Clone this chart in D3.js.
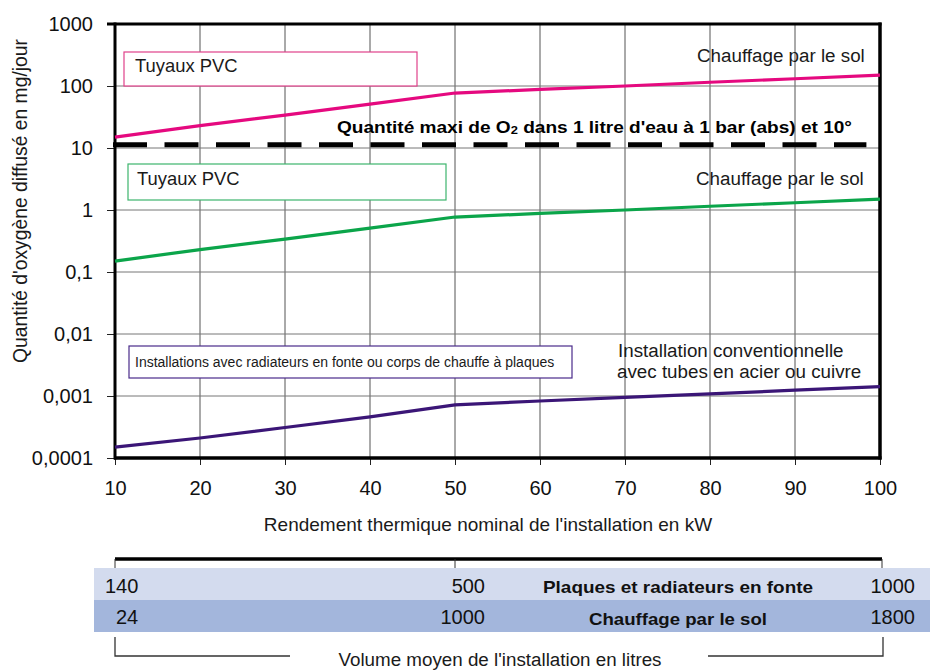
<!DOCTYPE html>
<html>
<head>
<meta charset="utf-8">
<script src="https://cdn.jsdelivr.net/npm/d3@7"></script>
<style>
  html, body { margin: 0; padding: 0; background: #fff; }
  svg { display: block; font-family: "Liberation Sans", Arial, Helvetica, sans-serif; }
</style>
</head>
<body>
<svg id="chart" width="930" height="670"></svg>
<script>
// Nominal thermal output of the installation (kW)
const powerKW = [10, 20, 30, 40, 50, 60, 70, 80, 90, 100];

// Oxygen diffused (mg/day) for each installation type
const pvcHigh   = [15, 23, 34, 51, 77, 88, 100, 115, 131, 150];
const pvcLow    = [0.15, 0.23, 0.34, 0.51, 0.77, 0.88, 1.0, 1.15, 1.31, 1.5];
const steelCu   = [0.00015, 0.00021, 0.00031, 0.00046, 0.00072, 0.00083, 0.00095, 0.00108, 0.00124, 0.00142];

// Max O2 in one litre of water at 1 bar (abs) and 10 °C (mg)
const oxygenLimit = 11.3;

// Axis tick values and labels
const xTicks = [10, 20, 30, 40, 50, 60, 70, 80, 90, 100];
const yTicks = [0.0001, 0.001, 0.01, 0.1, 1, 10, 100, 1000];
const yTickLabels = ["0,0001", "0,001", "0,01", "0,1", "1", "10", "100", "1000"];

// Average installation volume (litres) at 10, 50 and 100 kW
const volumeAt = [10, 50, 100];
const volumeRadiators = ["140", "500", "1000"];
const volumeFloor = ["24", "1000", "1800"];

const svg = d3.select("#chart");
const plotLeft = 115, plotRight = 880, plotTop = 24, plotBottom = 458;

const x = d3.scaleLinear().domain([10, 100]).range([plotLeft, plotRight]);
const y = d3.scaleLog().domain([0.0001, 1000]).range([plotBottom, plotTop]);

// Grid
const grid = svg.append("g");
grid.selectAll("line.v").data(xTicks.slice(1, -1)).join("line")
  .attr("x1", d => x(d)).attr("x2", d => x(d))
  .attr("y1", plotTop).attr("y2", plotBottom)
  .attr("stroke", "#555").attr("stroke-width", 1);
grid.selectAll("line.h").data(yTicks.slice(1, -1)).join("line")
  .attr("x1", plotLeft).attr("x2", plotRight)
  .attr("y1", d => y(d)).attr("y2", d => y(d))
  .attr("stroke", "#777").attr("stroke-width", 1);

// Left axis
const yAxis = d3.axisLeft(y).tickValues(yTicks)
  .tickFormat((d, i) => yTickLabels[i]).tickSize(8).tickPadding(14);
const gy = svg.append("g").attr("transform", `translate(${plotLeft},0)`).call(yAxis);
gy.select(".domain").remove();
gy.selectAll("text").attr("font-size", 20).attr("fill", "#111")
  .style("font-family", "'Liberation Sans', Arial, sans-serif");
gy.selectAll("line").attr("stroke", "#222");

// Bottom axis
const xAxis = d3.axisBottom(x).tickValues(xTicks).tickSize(7).tickPadding(16);
const gx = svg.append("g").attr("transform", `translate(0,${plotBottom})`).call(xAxis);
gx.select(".domain").remove();
gx.selectAll("text").attr("font-size", 20).attr("fill", "#111")
  .style("font-family", "'Liberation Sans', Arial, sans-serif");
gx.selectAll("line").attr("stroke", "#222");

// Frame
svg.append("line").attr("x1", plotLeft - 8).attr("x2", plotRight + 1.5).attr("y1", plotTop).attr("y2", plotTop)
  .attr("stroke", "#000").attr("stroke-width", 3);
svg.append("line").attr("x1", plotLeft - 1).attr("x2", plotRight + 1.5).attr("y1", plotBottom).attr("y2", plotBottom)
  .attr("stroke", "#000").attr("stroke-width", 3.5);
svg.append("line").attr("x1", plotLeft).attr("x2", plotLeft).attr("y1", plotTop - 1.5).attr("y2", plotBottom + 1.5)
  .attr("stroke", "#000").attr("stroke-width", 3);
svg.append("line").attr("x1", plotRight).attr("x2", plotRight).attr("y1", plotTop - 1.5).attr("y2", plotBottom + 1.5)
  .attr("stroke", "#000").attr("stroke-width", 3.5);

// Oxygen limit (dashed)
svg.append("line")
  .attr("x1", plotLeft - 2).attr("x2", x(98.4))
  .attr("y1", y(oxygenLimit)).attr("y2", y(oxygenLimit))
  .attr("stroke", "#000").attr("stroke-width", 5)
  .attr("stroke-dasharray", "34,17.5");

const limitLabel = svg.append("text")
  .attr("x", 337).attr("y", 133)
  .attr("font-size", 17).attr("font-weight", "bold").attr("fill", "#000")
  .attr("textLength", 515).attr("lengthAdjust", "spacingAndGlyphs");
limitLabel.append("tspan").text("Quantité maxi de O");
limitLabel.append("tspan").attr("font-size", 11.5).attr("dy", 1).text("2");
limitLabel.append("tspan").attr("dy", -1).text(" dans 1 litre d'eau à 1 bar (abs) et 10°");

// Series lines
const line = d3.line().x((d, i) => x(powerKW[i])).y(d => y(d));
const series = [
  { values: pvcHigh, color: "#e5097f" },
  { values: pvcLow, color: "#0ba54a" },
  { values: steelCu, color: "#3b1677" }
];
svg.selectAll("path.series").data(series).join("path")
  .attr("class", "series")
  .attr("d", d => line(d.values))
  .attr("fill", "none")
  .attr("stroke", d => d.color)
  .attr("stroke-width", 3.2);

// Label boxes
function box(x0, y0, w, h, color, label, size, tx, ty) {
  svg.append("rect").attr("x", x0).attr("y", y0).attr("width", w).attr("height", h)
    .attr("fill", "#fff").attr("stroke", color).attr("stroke-width", 1.2);
  svg.append("text").attr("x", tx).attr("y", ty)
    .attr("font-size", size).attr("fill", "#1a1a1a").text(label);
}
box(124, 52, 293, 34, "#e0418a", "Tuyaux PVC", 18.4, 135, 72);
box(128, 164, 318, 36, "#3db56d", "Tuyaux PVC", 18.4, 137, 185);
box(129, 346, 443, 32, "#4a2b8a", "Installations avec radiateurs en fonte ou corps de chauffe à plaques", 14, 135, 367);

// Right-side captions
function caption(tx, ty, label) {
  svg.append("text").attr("x", tx).attr("y", ty)
    .attr("font-size", 18.8).attr("fill", "#1a1a1a").text(label);
}
caption(697, 62, "Chauffage par le sol");
caption(696, 185, "Chauffage par le sol");
caption(618, 357, "Installation conventionnelle");
caption(617, 378, "avec tubes en acier ou cuivre");

// Axis titles
svg.append("text").attr("x", 488).attr("y", 531).attr("text-anchor", "middle")
  .attr("font-size", 19).attr("fill", "#1a1a1a")
  .text("Rendement thermique nominal de l'installation en kW");
svg.append("text")
  .attr("transform", "translate(27,201) rotate(-90)")
  .attr("text-anchor", "middle").attr("font-size", 19.3).attr("fill", "#1a1a1a")
  .text("Quantité d'oxygène diffusé en mg/jour");

// Volume table
const vy = 559;
svg.append("line").attr("x1", x(10)).attr("x2", x(100) + 2).attr("y1", vy).attr("y2", vy)
  .attr("stroke", "#000").attr("stroke-width", 3.5);
svg.selectAll("line.vt").data(volumeAt).join("line")
  .attr("x1", (d, i) => x(d) + (i === 2 ? 2 : 0)).attr("x2", (d, i) => x(d) + (i === 2 ? 2 : 0))
  .attr("y1", vy).attr("y2", vy + 9)
  .attr("stroke", "#333").attr("stroke-width", 1);

svg.append("rect").attr("x", 94).attr("y", 568).attr("width", 836).attr("height", 32)
  .attr("fill", "#d3dbee");
svg.append("rect").attr("x", 94).attr("y", 600).attr("width", 836).attr("height", 32)
  .attr("fill", "#a3b6dc");

const rowAnchor = ["start", "end", "end"];
const rowOffset = [-10, 30, 35];
svg.selectAll("text.vr").data(volumeRadiators).join("text")
  .attr("x", (d, i) => x(volumeAt[i]) + rowOffset[i])
  .attr("y", 593).attr("text-anchor", (d, i) => rowAnchor[i])
  .attr("font-size", 20).attr("fill", "#111").text(d => d);
svg.selectAll("text.vf").data(volumeFloor).join("text")
  .attr("x", (d, i) => x(volumeAt[i]) + (i === 0 ? 1 : rowOffset[i]))
  .attr("y", 624).attr("text-anchor", (d, i) => rowAnchor[i])
  .attr("font-size", 20).attr("fill", "#111").text(d => d);

svg.append("text").attr("x", 543).attr("y", 593)
  .attr("font-size", 17).attr("font-weight", "bold").attr("fill", "#111")
  .attr("textLength", 270).attr("lengthAdjust", "spacingAndGlyphs")
  .text("Plaques et radiateurs en fonte");
svg.append("text").attr("x", 589).attr("y", 625)
  .attr("font-size", 17).attr("font-weight", "bold").attr("fill", "#111")
  .attr("textLength", 178).attr("lengthAdjust", "spacingAndGlyphs")
  .text("Chauffage par le sol");

// Lower bracket
const by = 656;
svg.append("path")
  .attr("d", `M${x(10)},637 V${by} H290 M708,${by} H${x(100) + 3} V637`)
  .attr("fill", "none").attr("stroke", "#333").attr("stroke-width", 1.3);
svg.append("text").attr("x", 500).attr("y", 666).attr("text-anchor", "middle")
  .attr("font-size", 18.8).attr("fill", "#1a1a1a")
  .text("Volume moyen de l'installation en litres");
</script>
</body>
</html>
